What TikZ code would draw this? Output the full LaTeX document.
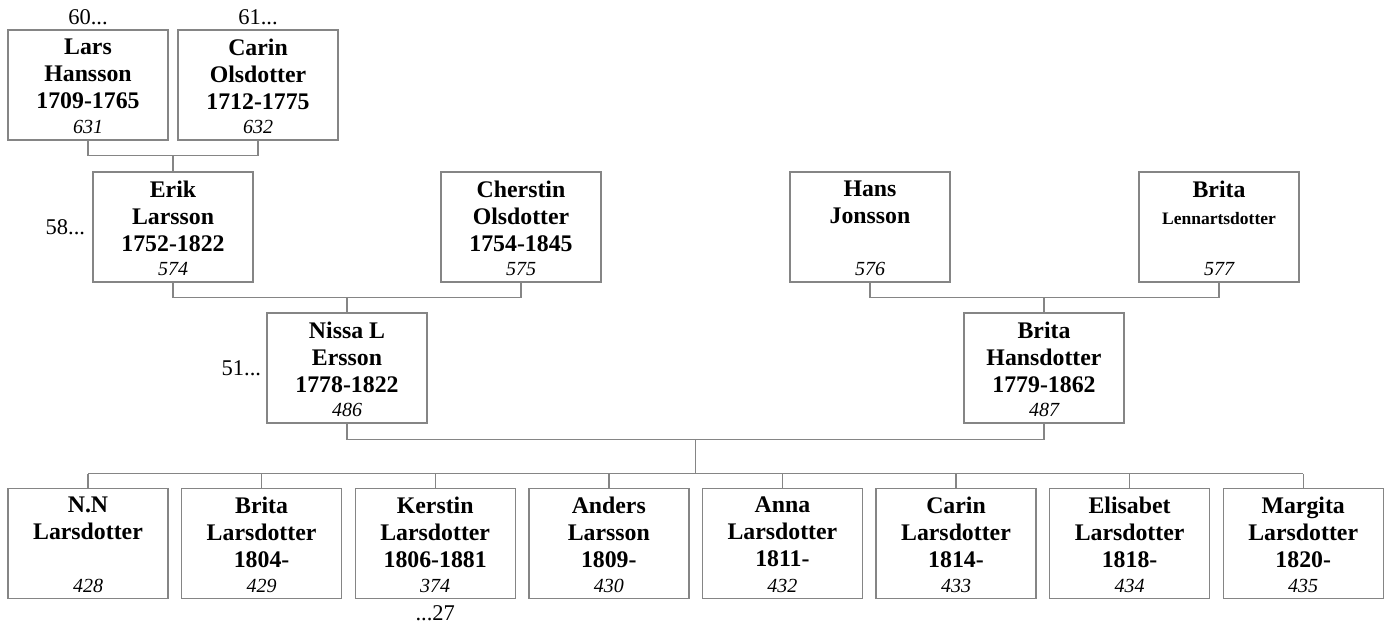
\documentclass[tikz,border=0pt]{standalone}
\usepackage{fontspec}
\setmainfont{Liberation Serif}
\usetikzlibrary{positioning,calc}
\definecolor{lgray}{HTML}{858585}

\begin{document}
\begin{tikzpicture}[x=1pt, y=-1pt,
  person/.style={draw=lgray, line width=1.4pt, minimum width=160pt, minimum height=110pt, inner sep=0pt},
  who/.style={anchor=north, align=center, inner sep=0pt, font=\fontsize{23.8}{27}\selectfont\bfseries},
  nr/.style={anchor=base, inner sep=0pt, font=\fontsize{20}{22}\selectfont\itshape},
  gen/.style={inner sep=0pt, font=\fontsize{22.5}{26}\selectfont},
  link/.style={draw=lgray, line width=1.4pt},
]
\useasboundingbox (0,0) rectangle (1387,623);
% parents and grandparents
\foreach \id/\x/\y/\txt/\nr in {
  lars/88/85/{Lars\\Hansson\\1709-1765}/631,
  carin/258/85/{Carin\\Olsdotter\\1712-1775}/632,
  erik/173/227/{Erik\\Larsson\\1752-1822}/574,
  cherstin/521/227/{Cherstin\\Olsdotter\\1754-1845}/575,
  hans/870/227/{Hans\\Jonsson}/576,
  brital/1219/227/{Brita\\{\fontsize{17.5}{28}\selectfont Lennartsdotter}}/577,
  nissa/347/368/{Nissa L\\Ersson\\1778-1822}/486,
  britah/1044/368/{Brita\\Hansdotter\\1779-1862}/487} {
  \node[person] (\id) at (\x,\y) {};
  \node[who] (\id-t) at ([yshift=-9pt]\id.north) {\txt};
  \node[nr] (\id-n) at ([yshift=7pt]\id.south) {\nr};
}
% children
\foreach \txt/\nr [count=\i] in {{N.N\\Larsdotter}/428, {Brita\\Larsdotter\\1804-}/429,
  {Kerstin\\Larsdotter\\1806-1881}/374, {Anders\\Larsson\\1809-}/430,
  {Anna\\Larsdotter\\1811-}/432, {Carin\\Larsdotter\\1814-}/433,
  {Elisabet\\Larsdotter\\1818-}/434, {Margita\\Larsdotter\\1820-}/435} {
  \node[person] (c\i) at ({88+173.6*(\i-1)},543.5) {};
  \node[who] (c\i-t) at ([yshift=-9pt]c\i.north) {\txt};
  \node[nr] (c\i-n) at ([yshift=7pt]c\i.south) {\nr};
}
% generation refs
\node[gen, anchor=base] (g60) at ([yshift=5pt]lars.north) {60...};
\node[gen, anchor=base] (g61) at ([yshift=5pt]carin.north) {61...};
\node[gen, anchor=east] (g58) at ([xshift=-7pt]erik.west) {58...};
\node[gen, anchor=east] (g51) at ([xshift=-5pt]nissa.west) {51...};
\node[gen, anchor=north] (g27) at ([yshift=-6pt]c3.south) {...27};
% links
\draw[link] (lars.south) -- ++(0,15) coordinate (p1) -| (carin.south);
\draw[link] (erik.north) -- (erik.north |- p1);
\draw[link] (erik.south) -- ++(0,15) coordinate (p2) -| (cherstin.south);
\draw[link] (nissa.north) -- (nissa.north |- p2);
\draw[link] (hans.south) -- ++(0,15) coordinate (p3) -| (brital.south);
\draw[link] (britah.north) -- (britah.north |- p3);
\draw[link] (nissa.south) -- ++(0,16) coordinate (p4) -| (britah.south);
\draw[link] ($(nissa.south)!0.5!(britah.south)+(0,16)$) -- ++(0,34) coordinate (bus);
\draw[link] (c1.north |- bus) -- (c8.north |- bus);
\foreach \i in {1,...,8}
  \draw[link] (c\i.north) -- (c\i.north |- bus);
\end{tikzpicture}
\end{document}
